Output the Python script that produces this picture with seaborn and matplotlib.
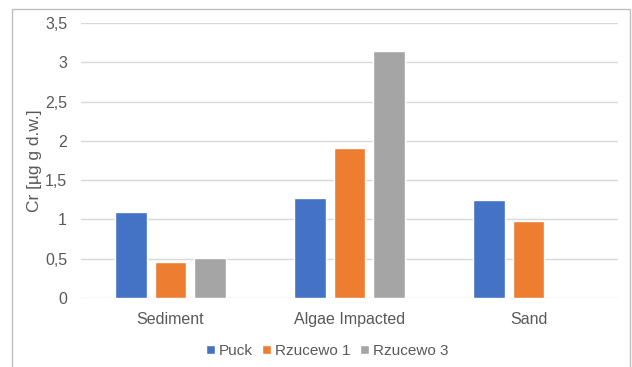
import pandas as pd
import numpy as np
import matplotlib
matplotlib.use('Agg')
import matplotlib.pyplot as plt
from matplotlib.patches import Rectangle
from matplotlib.ticker import FuncFormatter, MultipleLocator
import seaborn as sns

categories = ['Sediment', 'Algae Impacted', 'Sand']
sites = ['Puck', 'Rzucewo 1', 'Rzucewo 3']
puck = [1.09, 1.27, 1.25]
rzucewo1 = [0.46, 1.91, 0.98]
rzucewo3 = [0.51, 3.15, np.nan]
palette = ['#4472C4', '#ED7D31', '#A5A5A5']

df = pd.DataFrame({
    'category': categories * 3,
    'site': [s for s in sites for _ in categories],
    'value': puck + rzucewo1 + rzucewo3,
})

sns.set_style('white')
plt.rcParams['font.family'] = ['Liberation Sans', 'DejaVu Sans']
text_color = '#595959'

fig = plt.figure(figsize=(6.32, 3.67), dpi=100)
ax = fig.add_axes([81 / 632, 69 / 367, 537 / 632, 275 / 367])

sns.barplot(data=df, x='category', y='value', hue='site', order=categories,
            hue_order=sites, palette=palette, width=0.66, gap=0.2,
            saturation=1, ax=ax, legend=True)

ax.set_ylim(0, 3.5)
ax.set_xlim(-0.5, 2.5)
ax.yaxis.set_major_locator(MultipleLocator(0.5))
ax.yaxis.set_major_formatter(FuncFormatter(lambda v, p: f'{v:g}'.replace('.', ',')))
ax.grid(axis='y', color='#D9D9D9', linewidth=1)
ax.set_axisbelow(True)
for s in ax.spines.values():
    s.set_visible(False)
ax.tick_params(axis='both', length=0, labelsize=11.5, colors=text_color)
ax.tick_params(axis='y', pad=10)
ax.tick_params(axis='x', pad=10)
ax.set_xlabel('')
ax.set_ylabel('Cr [µg g d.w.]', fontsize=12.5, color=text_color, labelpad=2)

handles, labels = ax.get_legend_handles_labels()
ax.legend(handles, labels, loc='center', bbox_to_anchor=(327 / 632, 16 / 367),
          bbox_transform=fig.transFigure, ncol=3, frameon=False, fontsize=11,
          handlelength=0.6, handleheight=0.6, handletextpad=0.25, columnspacing=0.6,
          labelcolor=text_color)

fig.patches.append(Rectangle((12 / 632, -0.05), 618 / 632, 1 - 9 / 367 + 0.05,
                             transform=fig.transFigure, fill=False,
                             edgecolor='#BFBFBF', linewidth=1))

fig.savefig('out.png', dpi=100)
